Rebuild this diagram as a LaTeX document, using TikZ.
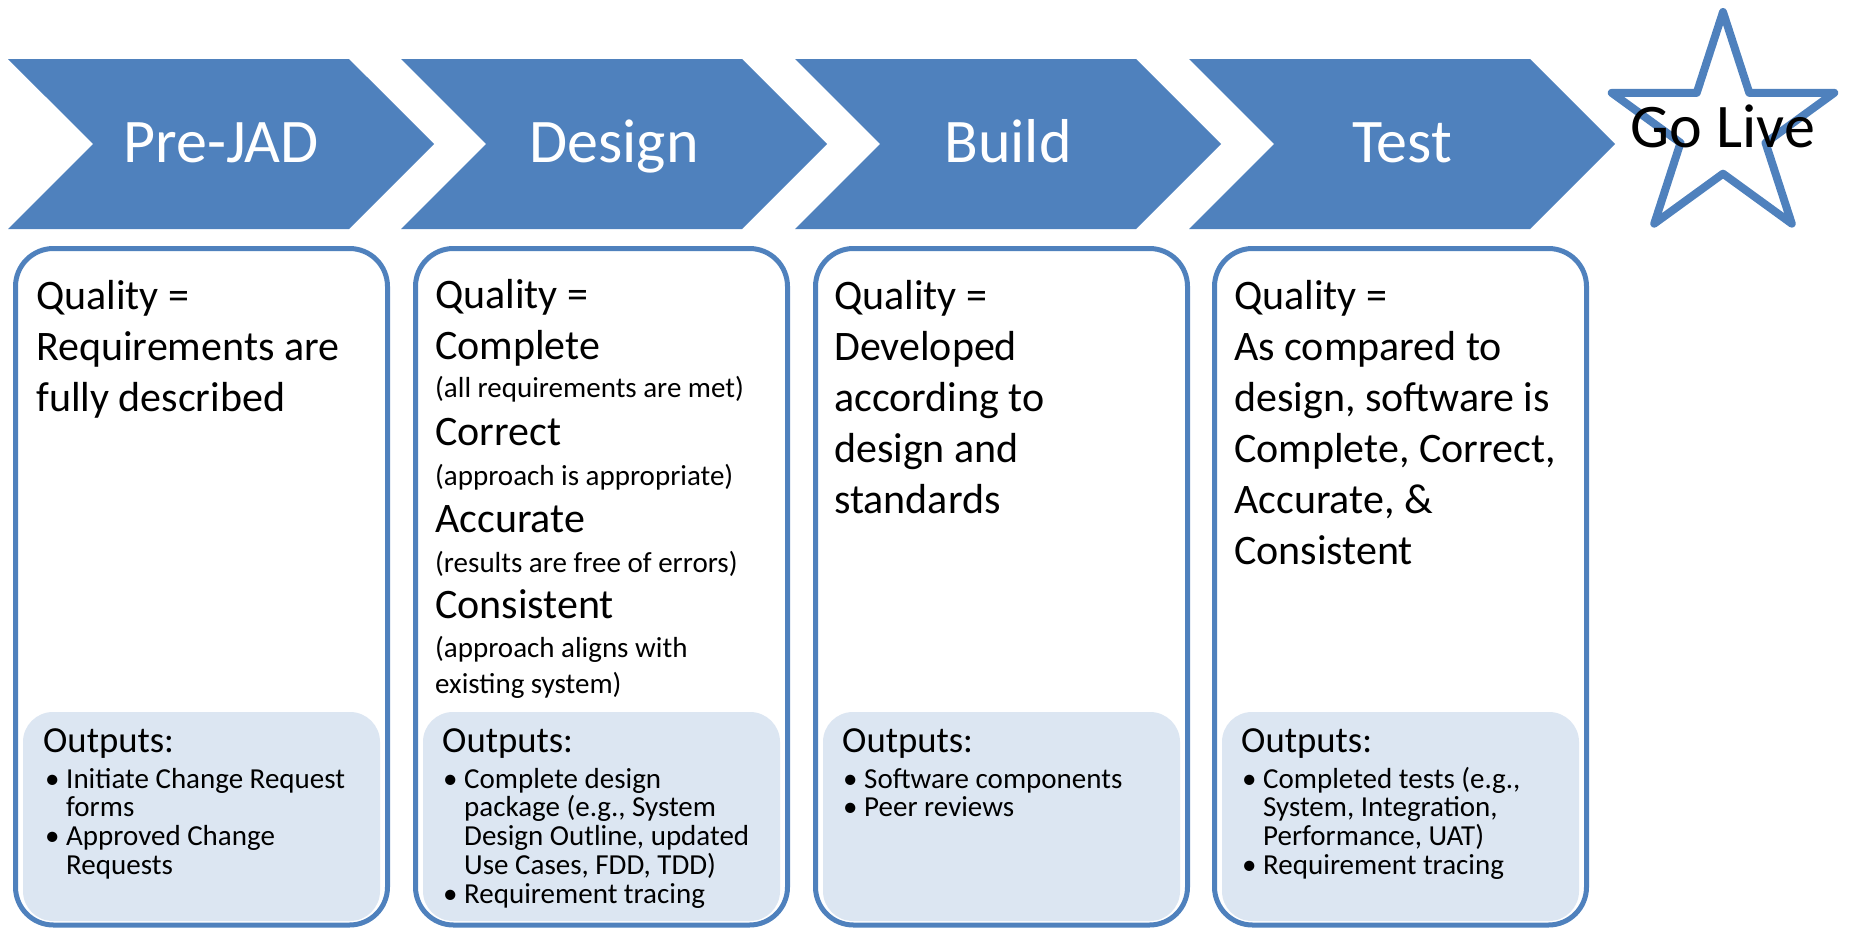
\documentclass[tikz,border=0pt]{standalone}
\usepackage{fontspec}
\setmainfont{Carlito}
\usetikzlibrary{shapes.symbols,shapes.geometric}

\definecolor{stageblue}{HTML}{4F81BD}
\definecolor{outfill}{HTML}{DCE6F2}

\newcommand{\outitem}{\makebox[21pt][l]{\textbullet}}
\newcommand{\outcont}{\hspace*{21pt}}

\tikzset{
  stage/.style={shape=signal, signal from=west, signal to=east, signal pointer angle=90,
    fill=stageblue, minimum width=426pt, minimum height=170pt, inner sep=0pt,
    text=white, font=\fontsize{62}{74}\selectfont, text height=40pt, text depth=4pt},
  phasebox/.style={rectangle, rounded corners=38pt, draw=stageblue, line width=5pt,
    fill=white, minimum width=372pt, minimum height=676.5pt},
  outbox/.style={rectangle, rounded corners=30pt, fill=outfill,
    minimum width=357pt, minimum height=209pt},
  % base anchor of a multi-line node sits on its last line
  bigtext/.style={anchor=base west, align=left, inner sep=0pt,
    font=\fontsize{42}{51}\selectfont},
  smalltext/.style={anchor=base west, align=left, inner sep=0pt,
    font=\fontsize{29}{36}\selectfont},
  outhead/.style={anchor=base west, inner sep=0pt, font=\fontsize{36.7}{44}\selectfont},
  outlist/.style={anchor=base west, align=left, inner sep=0pt,
    font=\fontsize{29}{28.8}\selectfont}
}

\begin{document}
\setlength{\lineskiplimit}{-30pt}
\begin{tikzpicture}[x=1pt, y=-1pt]
\useasboundingbox (0,0) rectangle (1849,929);

% phases
\node[stage] (prejad) at (221,144) {Pre-JAD};
\node[stage] (design) at (614,144) {Design};
\node[stage] (build) at (1008,144) {Build};
\node[stage] (test) at (1402,144) {Test};

\node[star, star points=5, star point ratio=2.618, minimum size=234pt, inner sep=0pt,
  draw=stageblue, line width=8pt, line join=round] (golive) at (1723,129) {};
\node[font=\fontsize{62}{74}\selectfont, text height=40pt, text depth=4pt, inner sep=0pt]
  (golivetext) at (golive.center) {Go Live};

% quality boxes
\node[phasebox] (qprejad) at (201.5,586.75) {};
\node[phasebox] (qdesign) at (601.5,586.75) {};
\node[phasebox] (qbuild) at (1001.5,586.75) {};
\node[phasebox] (qtest) at (1400.5,586.75) {};

\node[outbox] (oprejad) at (201.5,816.5) {};
\node[outbox] (odesign) at (601.5,816.5) {};
\node[outbox] (obuild) at (1001.5,816.5) {};
\node[outbox] (otest) at (1400.5,816.5) {};

% Pre-JAD
\node[bigtext] (prejadq) at (36,411) {Quality =\\Requirements are\\fully described};
\node[outhead] (prejadout) at (43,752) {Outputs:};
\node[outlist] (prejadlist) at (45,874.4) {\outitem Initiate Change Request\\\outcont forms\\
  \outitem Approved Change\\\outcont Requests};

% Design
\node[bigtext] (designq) at (435,359) {Quality =\\Complete};
\node[smalltext] (designa) at (435,397) {(all requirements are met)};
\node[bigtext] (designb) at (435,445) {Correct};
\node[smalltext] (designc) at (435,485) {(approach is appropriate)};
\node[bigtext] (designd) at (435,532) {Accurate};
\node[smalltext] (designe) at (435,572) {(results are free of errors)};
\node[bigtext] (designf) at (435,618) {Consistent};
\node[smalltext] (designg) at (435,693) {(approach aligns with\\existing system)};
\node[outhead] (designout) at (442,752) {Outputs:};
\node[outlist] (designlist) at (443,903.2) {\outitem Complete design\\\outcont package (e.g., System\\
  \outcont Design Outline, updated\\\outcont Use Cases, FDD, TDD)\\\outitem Requirement tracing};

% Build
\node[bigtext] (buildq) at (834,513) {Quality =\\Developed\\according to\\design and\\standards};
\node[outhead] (buildout) at (842,752) {Outputs:};
\node[outlist] (buildlist) at (843,816.8) {\outitem Software components\\\outitem Peer reviews};

% Test
\node[bigtext] (testq) at (1234,564) {Quality =\\As compared to\\design, software is\\
  Complete, Correct,\\Accurate, \&\\Consistent};
\node[outhead] (testout) at (1241,752) {Outputs:};
\node[outlist] (testlist) at (1242,874.4) {\outitem Completed tests (e.g.,\\\outcont System, Integration,\\
  \outcont Performance, UAT)\\\outitem Requirement tracing};
\end{tikzpicture}
\end{document}
